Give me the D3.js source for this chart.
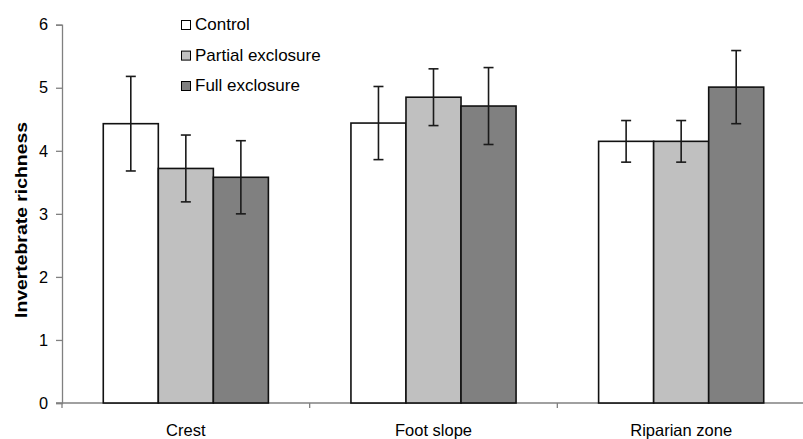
<!DOCTYPE html>
<html>
<head>
<meta charset="utf-8">
<script src="https://cdn.jsdelivr.net/npm/d3@7"></script>
<style>
  html, body { margin: 0; padding: 0; background: #fff; }
  svg { display: block; font-family: "Liberation Sans", Arial, sans-serif; }
</style>
</head>
<body>
<svg id="chart" width="803" height="439"></svg>
<script>
const categories = ["Crest", "Foot slope", "Riparian zone"];
const seriesNames = ["Control", "Partial exclosure", "Full exclosure"];
const seriesColors = ["#ffffff", "#c0c0c0", "#808080"];
const controlMeans = [4.43, 4.44, 4.15];
const partialMeans = [3.72, 4.85, 4.15];
const fullMeans = [3.58, 4.71, 5.01];
const controlErr = [0.75, 0.58, 0.33];
const partialErr = [0.53, 0.45, 0.33];
const fullErr = [0.58, 0.61, 0.58];
const yTicks = [0, 1, 2, 3, 4, 5, 6];
const yTitle = "Invertebrate richness";

(function () {
const means = [controlMeans, partialMeans, fullMeans];
const errs = [controlErr, partialErr, fullErr];

const svg = d3.select("#chart");
const mLeft = 62, mRight = 805, mTop = 24.7, mBottom = 403;

const x0 = d3.scaleBand().domain(categories).range([mLeft, mRight]).paddingInner(0).paddingOuter(0);
const x1 = d3.scaleBand().domain(seriesNames).range([0, x0.bandwidth()]).paddingInner(0).paddingOuter(0.75);
const y = d3.scaleLinear().domain([0, 6]).range([mBottom, mTop]);

const data = [];
categories.forEach((c, ci) => {
  seriesNames.forEach((s, si) => {
    data.push({ cat: c, ser: s, si, v: means[si][ci], e: errs[si][ci] });
  });
});

// Y axis
const yAxis = svg.append("g")
  .attr("transform", `translate(${mLeft},0)`)
  .call(d3.axisLeft(y).tickValues(yTicks).tickSize(6).tickPadding(8).tickFormat(d3.format("d")));
yAxis.select(".domain").attr("stroke", "#808080").attr("stroke-width", 1.3);
yAxis.selectAll(".tick line").attr("stroke", "#808080").attr("stroke-width", 1.3);
yAxis.selectAll(".tick text").attr("font-size", 16.3).attr("fill", "#000")
  .attr("font-family", "Liberation Sans, Arial, sans-serif");

// X axis line and boundary ticks
const xAxisG = svg.append("g");
xAxisG.append("line")
  .attr("x1", mLeft - 6).attr("x2", mRight).attr("y1", y(0)).attr("y2", y(0))
  .attr("stroke", "#808080").attr("stroke-width", 1.3);
const boundaries = categories.map(c => x0(c)).concat([x0(categories[categories.length - 1]) + x0.bandwidth()]);
xAxisG.selectAll("line.bt").data(boundaries).join("line")
  .attr("class", "bt")
  .attr("x1", d => d).attr("x2", d => d)
  .attr("y1", y(0)).attr("y2", y(0) + 5)
  .attr("stroke", "#808080").attr("stroke-width", 1.3);
xAxisG.selectAll("text.cat").data(categories).join("text")
  .attr("class", "cat")
  .attr("x", d => x0(d) + x0.bandwidth() / 2)
  .attr("y", 435.5)
  .attr("text-anchor", "middle")
  .attr("font-size", 16.5)
  .attr("fill", "#000")
  .text(d => d);

// Bars
svg.append("g").selectAll("rect").data(data).join("rect")
  .attr("x", d => x0(d.cat) + x1(d.ser))
  .attr("y", d => y(d.v))
  .attr("width", x1.bandwidth())
  .attr("height", d => y(0) - y(d.v))
  .attr("fill", d => seriesColors[d.si])
  .attr("stroke", "#111")
  .attr("stroke-width", 1.6);

// Error bars
const eg = svg.append("g").attr("stroke", "#1a1a1a").attr("stroke-width", 1.6);
data.forEach(d => {
  const cx = x0(d.cat) + x1(d.ser) + x1.bandwidth() / 2;
  const yt = y(d.v + d.e), yb = y(d.v - d.e);
  eg.append("line").attr("x1", cx).attr("x2", cx).attr("y1", yt).attr("y2", yb);
  eg.append("line").attr("x1", cx - 5).attr("x2", cx + 5).attr("y1", yt).attr("y2", yt);
  eg.append("line").attr("x1", cx - 5).attr("x2", cx + 5).attr("y1", yb).attr("y2", yb);
});

// Y title
svg.append("text")
  .attr("transform", "translate(27,220) rotate(-90)")
  .attr("text-anchor", "middle")
  .attr("font-size", 17)
  .attr("font-weight", "bold")
  .attr("fill", "#000")
  .attr("textLength", 196)
  .attr("lengthAdjust", "spacingAndGlyphs")
  .text(yTitle);

// Legend
const legendY = [30, 60.6, 91];
const lg = svg.append("g");
seriesNames.forEach((s, i) => {
  lg.append("rect")
    .attr("x", 181.5).attr("y", legendY[i] - 9.5)
    .attr("width", 9).attr("height", 9)
    .attr("fill", seriesColors[i]).attr("stroke", "#000").attr("stroke-width", 1);
  lg.append("text")
    .attr("x", 195).attr("y", legendY[i])
    .attr("font-size", 17)
    .attr("fill", "#000")
    .text(s);
});
})();
</script>
</body>
</html>
